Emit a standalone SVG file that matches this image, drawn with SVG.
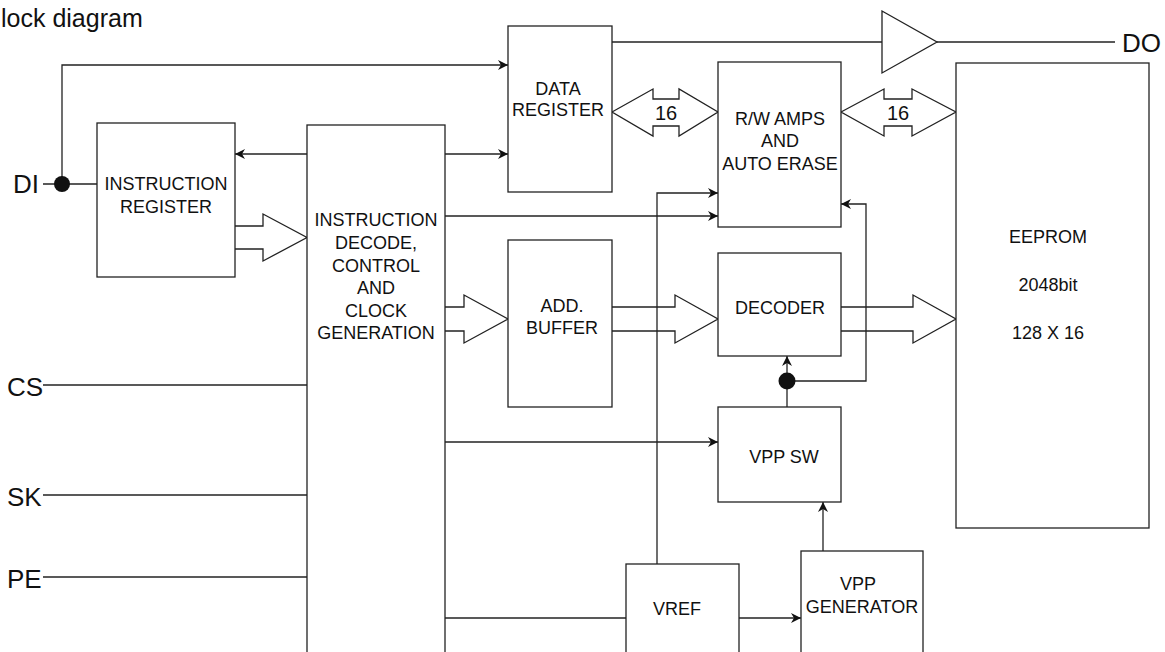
<svg xmlns="http://www.w3.org/2000/svg" width="1165" height="652" viewBox="0 0 1165 652">
<style>
.box{fill:#fff;stroke:#222;stroke-width:1.3}
.ln{fill:none;stroke:#222;stroke-width:1.3}
.fat{fill:none;stroke:#222;stroke-width:1.3;stroke-linejoin:miter}
.dbl{fill:#fff;stroke:#222;stroke-width:1.3}
.t{font-family:"Liberation Sans",Arial,Helvetica,sans-serif;font-size:18px;fill:#111;text-anchor:middle}
.pin{font-family:"Liberation Sans",Arial,Helvetica,sans-serif;font-size:26px;fill:#111}
.w{font-family:"Liberation Sans",Arial,Helvetica,sans-serif;font-size:20px;fill:#111;text-anchor:middle}
</style>
<defs>
<marker id="ah" markerWidth="10" markerHeight="10" refX="10" refY="5" orient="auto" markerUnits="userSpaceOnUse">
<path d="M0,0 L10,5 L0,10 L3,5 z" fill="#111"/>
</marker>
</defs>
<rect width="1165" height="652" fill="#fff"/>
<text class="pin" x="1" y="27" style="font-size:25px">lock diagram</text>

<g id="connectors">
<!-- DI -->
<line class="ln" x1="43" y1="184" x2="97" y2="184"/>
<polyline class="ln" points="62,184 62,65 508,65" marker-end="url(#ah)"/>
<!-- ID to IR and DR -->
<line class="ln" x1="307" y1="154" x2="235" y2="154" marker-end="url(#ah)"/>
<line class="ln" x1="445" y1="154" x2="508" y2="154" marker-end="url(#ah)"/>
<line class="ln" x1="445" y1="216" x2="718" y2="216" marker-end="url(#ah)"/>
<line class="ln" x1="445" y1="442" x2="718" y2="442" marker-end="url(#ah)"/>
<line class="ln" x1="445" y1="618" x2="626" y2="618"/>
<!-- pins -->
<line class="ln" x1="43" y1="385" x2="307" y2="385"/>
<line class="ln" x1="43" y1="495" x2="307" y2="495"/>
<line class="ln" x1="43" y1="577" x2="307" y2="577"/>
<!-- DO output -->
<line class="ln" x1="612" y1="42" x2="882" y2="42"/>
<polygon class="box" points="882,11 937,42 882,73"/>
<line class="ln" x1="937" y1="42" x2="1115" y2="42"/>
<!-- VREF -->
<polyline class="ln" points="657,564 657,193 718,193" marker-end="url(#ah)"/>
<line class="ln" x1="739" y1="618" x2="801" y2="618" marker-end="url(#ah)"/>
<line class="ln" x1="823" y1="551" x2="823" y2="502" marker-end="url(#ah)"/>
<!-- VPP SW to decoder / RW -->
<line class="ln" x1="787" y1="407" x2="787" y2="381"/>
<line class="ln" x1="787" y1="381" x2="787" y2="356" marker-end="url(#ah)"/>
<polyline class="ln" points="787,381 866,381 866,204 841,204" marker-end="url(#ah)"/>
<circle cx="62" cy="184" r="8" fill="#111"/>
<circle cx="787" cy="381" r="8.5" fill="#111"/>
<!-- fat arrows -->
<path class="fat" d="M235,226 H263 V214 L307,237.5 L263,261 V249 H235"/>
<path class="fat" d="M445,307 H464 V295 L508,319 L464,343 V331 H445"/>
<path class="fat" d="M612,307 H675 V295 L718,319 L675,343 V331 H612"/>
<path class="fat" d="M841,307 H913 V295 L956,319 L913,343 V331 H841"/>
<!-- bidirectional buses -->
<path class="dbl" d="M612,112 L653,89 V99 H679 V89 L718,112 L679,136 V126 H653 V136 Z"/>
<text class="w" x="666" y="120">16</text>
<path class="dbl" d="M841,112 L884,89 V99 H912 V89 L956,112 L912,136 V126 H884 V136 Z"/>
<text class="w" x="898" y="120">16</text>
</g>

<g id="pins">
<text class="pin" x="13" y="193">DI</text>
<text class="pin" x="7" y="396">CS</text>
<text class="pin" x="7" y="506">SK</text>
<text class="pin" x="7" y="588">PE</text>
<text class="pin" x="1122" y="52">DO</text>
</g>

<g id="instruction-register">
<rect class="box" x="97" y="123" width="138" height="154"/>
<text class="t" x="166" y="190">INSTRUCTION</text>
<text class="t" x="166" y="213">REGISTER</text>
</g>

<g id="instruction-decode">
<rect class="box" x="307" y="125" width="138" height="540"/>
<text class="t" x="376" y="226">INSTRUCTION</text>
<text class="t" x="376" y="249">DECODE,</text>
<text class="t" x="376" y="272">CONTROL</text>
<text class="t" x="376" y="294">AND</text>
<text class="t" x="376" y="317">CLOCK</text>
<text class="t" x="376" y="339">GENERATION</text>
</g>

<g id="data-register">
<rect class="box" x="508" y="26" width="104" height="166"/>
<text class="t" x="558" y="95">DATA</text>
<text class="t" x="558" y="116">REGISTER</text>
</g>

<g id="rw-amps">
<rect class="box" x="718" y="62" width="123" height="165"/>
<text class="t" x="780" y="125">R/W AMPS</text>
<text class="t" x="780" y="147">AND</text>
<text class="t" x="780" y="170">AUTO ERASE</text>
</g>

<g id="eeprom">
<rect class="box" x="956" y="63" width="193" height="465"/>
<text class="t" x="1048" y="243">EEPROM</text>
<text class="t" x="1048" y="291">2048bit</text>
<text class="t" x="1048" y="339">128 X 16</text>
</g>

<g id="add-buffer">
<rect class="box" x="508" y="240" width="104" height="167"/>
<text class="t" x="562" y="312">ADD.</text>
<text class="t" x="562" y="334">BUFFER</text>
</g>

<g id="decoder">
<rect class="box" x="718" y="253" width="123" height="103"/>
<text class="t" x="780" y="314">DECODER</text>
</g>

<g id="vpp-sw">
<rect class="box" x="718" y="407" width="123" height="95"/>
<text class="t" x="784" y="463">VPP SW</text>
</g>

<g id="vref">
<rect class="box" x="626" y="564" width="113" height="100"/>
<text class="t" x="677" y="615">VREF</text>
</g>

<g id="vpp-generator">
<rect class="box" x="801" y="551" width="122" height="110"/>
<text class="t" x="858" y="590">VPP</text>
<text class="t" x="862" y="613">GENERATOR</text>
</g>
</svg>
